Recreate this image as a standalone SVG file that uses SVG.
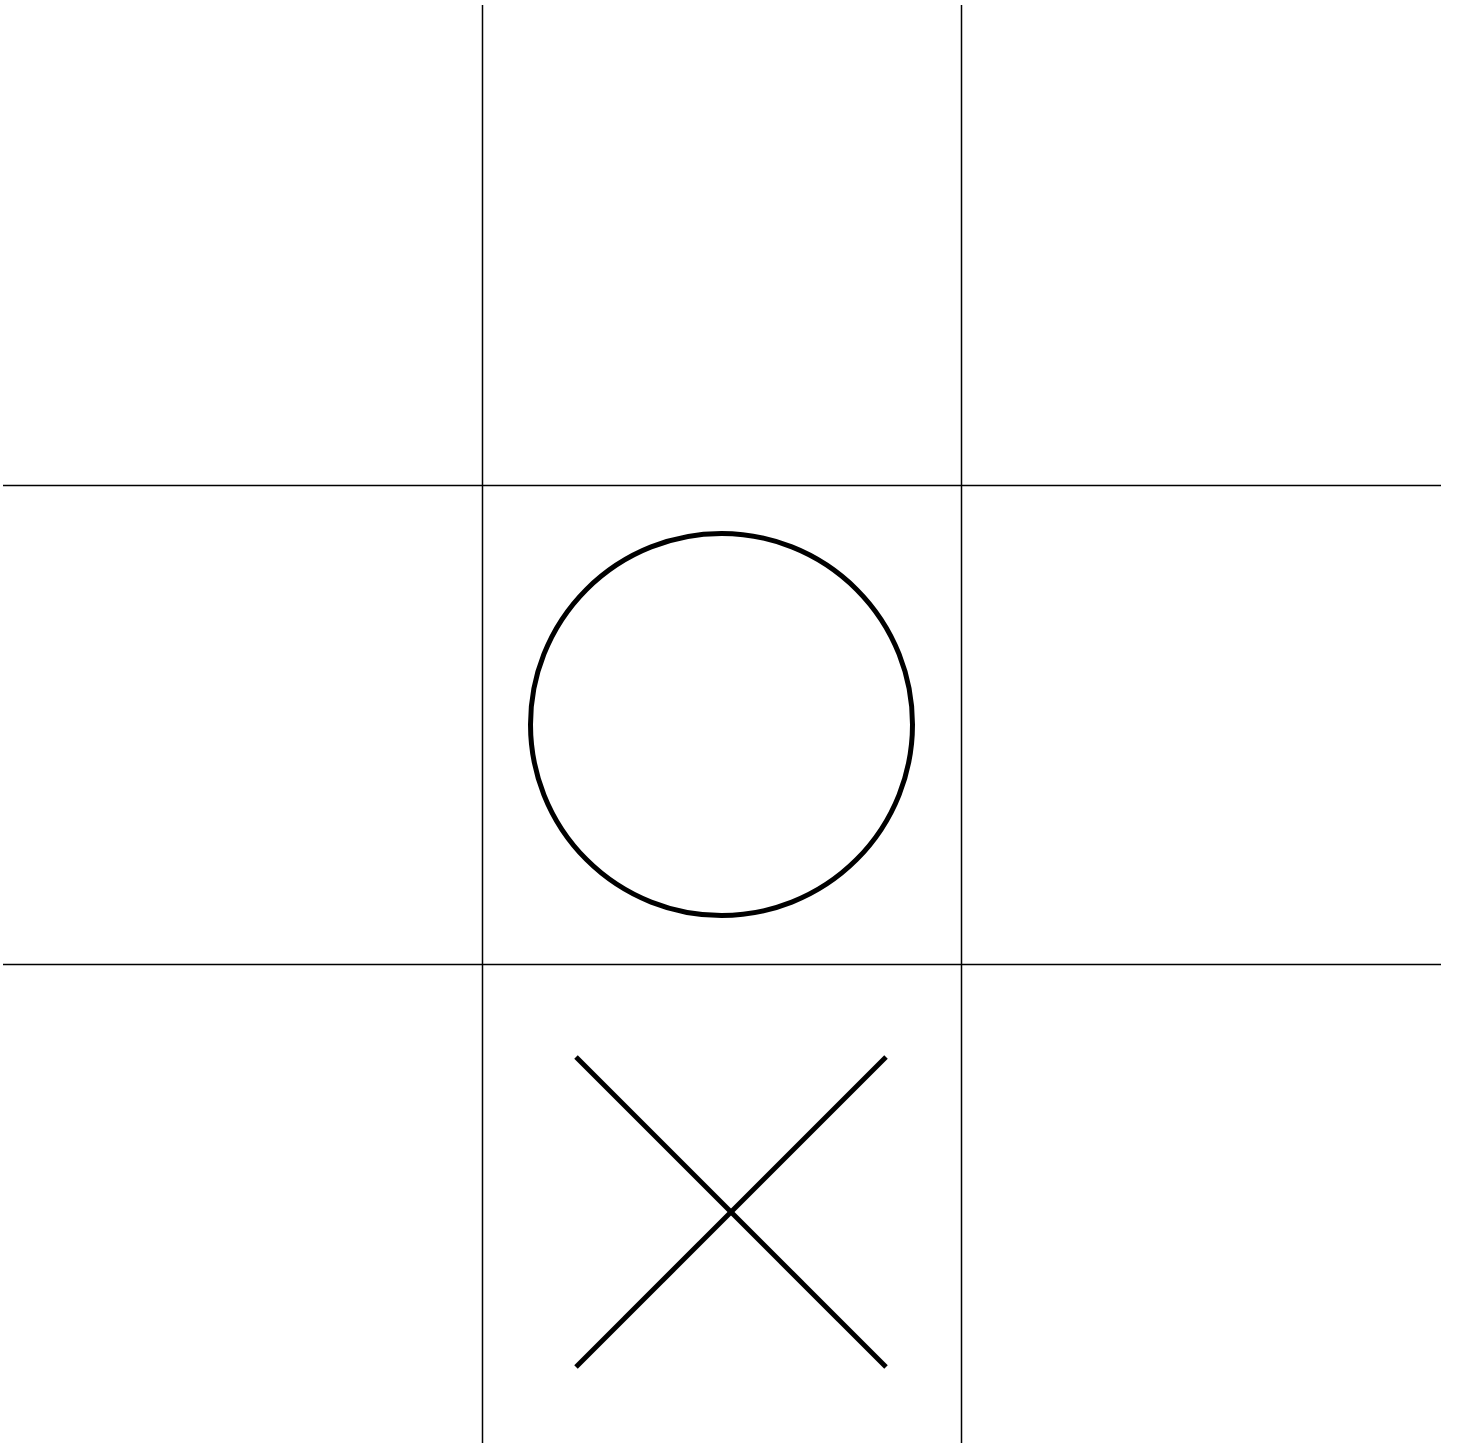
<svg xmlns="http://www.w3.org/2000/svg" width="1457" height="1445" viewBox="0 0 1457 1445">
<style>
.grid{stroke:#000;stroke-width:1.5;fill:none}
.mark{stroke:#000;stroke-width:5;fill:none}
</style>
<rect width="1457" height="1445" fill="#fff"/>
<g id="grid">
<line class="grid" x1="482.5" y1="5" x2="482.5" y2="1443"/>
<line class="grid" x1="961.5" y1="5" x2="961.5" y2="1443"/>
<line class="grid" x1="3" y1="485.5" x2="1441" y2="485.5"/>
<line class="grid" x1="3" y1="964.5" x2="1441" y2="964.5"/>
</g>
<g id="o-mark">
<circle class="mark" cx="721.5" cy="724.5" r="191"/>
</g>
<g id="x-mark">
<line class="mark" x1="576" y1="1057" x2="886" y2="1367"/>
<line class="mark" x1="886" y1="1057" x2="576" y2="1367"/>
</g>
</svg>
